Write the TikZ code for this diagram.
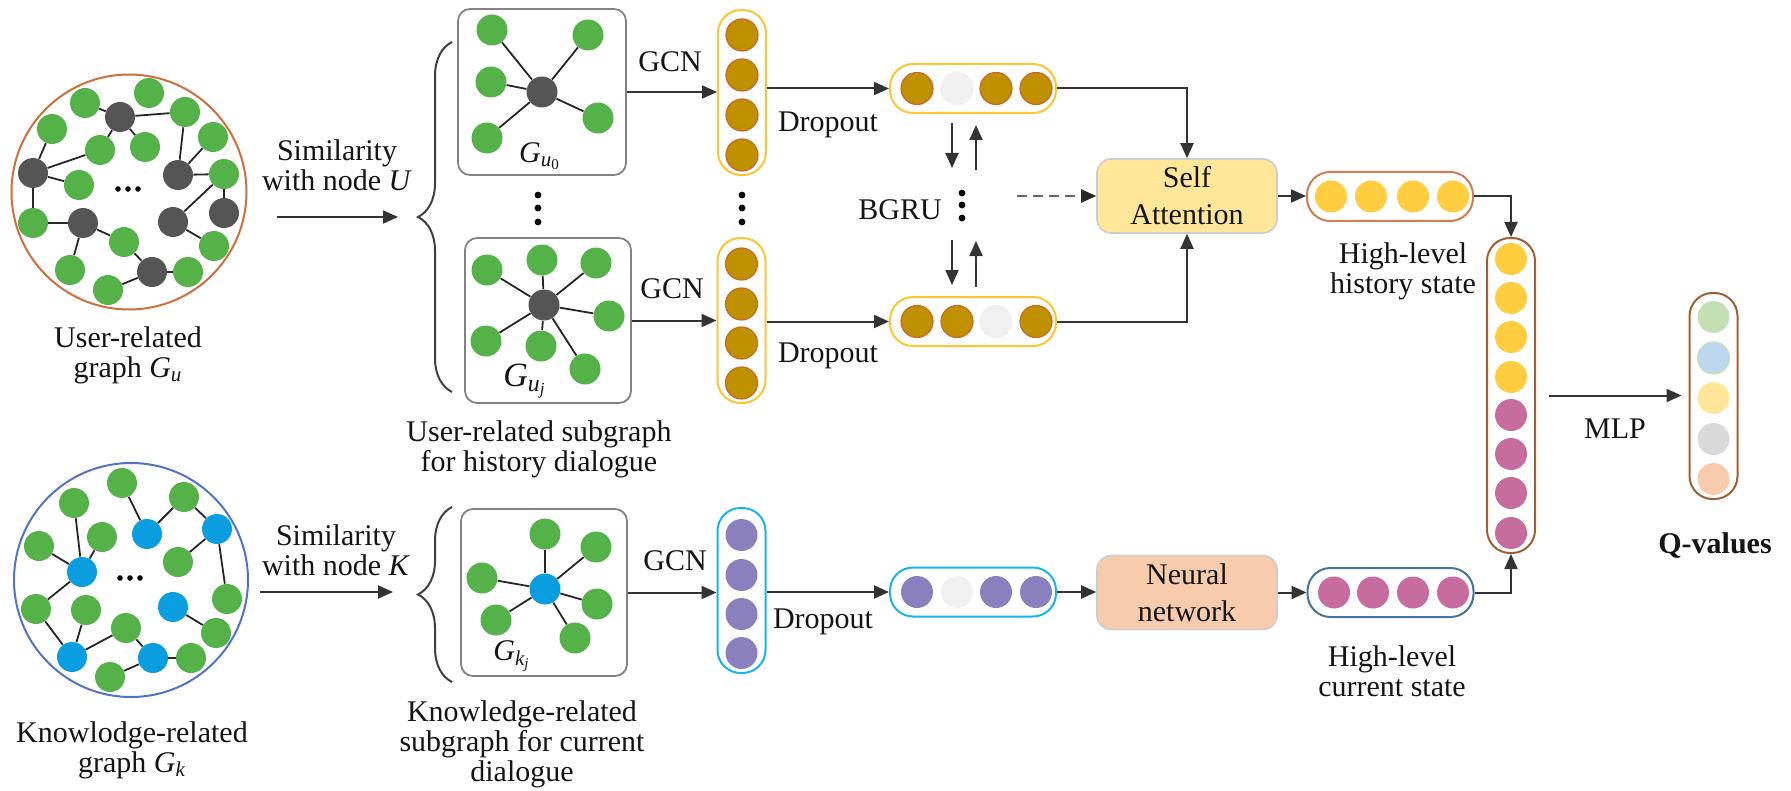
\documentclass[tikz,border=0pt]{standalone}
\usepackage{fontspec}
\usepackage{amsmath}
\setmainfont{Liberation Serif}
\usetikzlibrary{arrows.meta,decorations.pathreplacing}
\definecolor{cgreen}{RGB}{84,178,72}
\definecolor{cdark}{RGB}{85,85,85}
\definecolor{cblue}{RGB}{10,158,224}
\definecolor{cring1}{RGB}{205,110,60}
\definecolor{cring2}{RGB}{80,115,200}
\definecolor{cbrown}{RGB}{191,144,0}
\definecolor{cbrownd}{RGB}{200,105,40}
\definecolor{cyel}{RGB}{255,196,50}
\definecolor{clight}{RGB}{240,240,240}
\definecolor{cpurple}{RGB}{139,128,190}
\definecolor{ccyan}{RGB}{20,180,240}
\definecolor{cgold}{RGB}{255,206,64}
\definecolor{chist}{RGB}{205,125,80}
\definecolor{cmag}{RGB}{198,108,158}
\definecolor{ccur}{RGB}{70,115,155}
\definecolor{cbig}{RGB}{160,95,50}
\definecolor{csa}{RGB}{255,230,153}
\definecolor{cnn}{RGB}{248,203,173}
\definecolor{cboxb}{RGB}{205,205,205}
\definecolor{csub}{RGB}{130,130,130}
\definecolor{qg}{RGB}{197,224,180}
\definecolor{qb}{RGB}{189,215,238}
\definecolor{qy}{RGB}{255,230,153}
\definecolor{qgr}{RGB}{217,217,217}
\definecolor{qp}{RGB}{248,203,173}
\definecolor{ctext}{RGB}{20,20,20}
\begin{document}
\begin{tikzpicture}[x=0.5pt,y=-0.5pt,
  every node/.style={text=ctext},
  lbl/.style={font=\fontsize{15}{15}\selectfont, align=center, inner sep=0pt},
  gn/.style={circle,fill=cgreen,minimum size=15pt,inner sep=0pt},
  dn/.style={circle,fill=cdark,minimum size=15pt,inner sep=0pt},
  bn/.style={circle,fill=cblue,minimum size=15pt,inner sep=0pt},
  ed/.style={draw=black!85,line width=0.9pt},
  arr/.style={draw=black!80,line width=1pt,-{Triangle[length=7.5pt,width=6.5pt]}},
  cell/.style={circle,minimum size=16pt,inner sep=0pt},
  vcol/.style={draw,rounded corners=11.5pt,line width=1pt,minimum width=24pt,inner sep=0pt},
  hrow/.style={draw,rounded corners=11.5pt,line width=1pt,minimum width=83pt,minimum height=24.5pt,inner sep=0pt},
  sbox/.style={draw=csub,rounded corners=6pt,line width=0.9pt,inner sep=0pt},
  pbox/.style={draw=cboxb,rounded corners=7pt,line width=0.8pt,minimum width=90pt,minimum height=37pt,align=center,inner sep=0pt,font=\fontsize{15}{18.5}\selectfont},
  brc/.style={decorate,decoration={brace,amplitude=17pt},draw=black!75,line width=1pt}
]
\useasboundingbox (0,0) rectangle (1791,791);

% ---------- user-related graph ----------
\node[circle,draw=cring1,line width=1pt,minimum size=117.5pt,inner sep=0pt] (ucirc) at (129,192) {};
\foreach \n/\x/\y in {ug1/85/103,ug2/149/93,ug3/52/129,ug4/185/112,ug5/100/150,ug6/145/147,ug7/213/137,ug8/224/174,ug9/79/185,ug10/33/223,ug11/124/242,ug12/214/246,ug13/70/270,ug14/108/290,ug15/188/272}
  \node[gn] (\n) at (\x,\y) {};
\foreach \n/\x/\y in {ud1/120/117,ud2/33/173,ud3/178/175,ud4/83/223,ud5/173/222,ud6/224/213,ud7/152/272}
  \node[dn] (\n) at (\x,\y) {};
\foreach \a/\b in {ud1/ug1,ud1/ug4,ud1/ug6,ud1/ug5,ud2/ug3,ud2/ug5,ud2/ug9,ud2/ug10,ug10/ud4,ud4/ug11,ud4/ug13,ug11/ud7,ud7/ug14,ud7/ug15,ud3/ug4,ud3/ug7,ud3/ug8,ug8/ud6,ug8/ud5,ud5/ug12}
  \draw[ed] (\a) -- (\b);
\foreach \x in {118,128,138} \fill[black] (\x,189) circle[radius=1.4pt];
\node[lbl] (ulab) at (128,355) {User-related\\graph \textit{G}$_{\textit{u}}$};

% ---------- knowledge-related graph ----------
\node[circle,draw=cring2,line width=1pt,minimum size=117pt,inner sep=0pt] (kcirc) at (131,580) {};
\foreach \n/\x/\y in {kg1/122/483,kg2/74/503,kg3/184/497,kg4/39/546,kg5/102/537,kg6/178/562,kg7/36/609,kg8/86/610,kg9/126/628,kg10/227/599,kg11/216/633,kg12/191/658,kg13/110/677}
  \node[gn] (\n) at (\x,\y) {};
\foreach \n/\x/\y in {kb1/147/534,kb2/217/529,kb3/82/572,kb4/173/607,kb5/72/657,kb6/153/658}
  \node[bn] (\n) at (\x,\y) {};
\foreach \a/\b in {kb1/kg1,kb1/kg3,kg3/kb2,kb2/kg6,kb2/kg10,kb3/kg2,kb3/kg5,kb3/kg4,kb3/kg7,kg7/kb5,kb5/kg8,kb5/kg9,kg9/kb6,kb6/kg13,kb6/kg12,kb4/kg11}
  \draw[ed] (\a) -- (\b);
\foreach \x in {120,130,140} \fill[black] (\x,578) circle[radius=1.4pt];
\node[lbl] (klab) at (132,750) {Knowlodge-related\\graph \textit{G}$_{\textit{k}}$};

% ---------- similarity arrows ----------
\coordinate (ua0) at (277,217); \coordinate (ua1) at (398,217);
\draw[arr] (ua0) -- (ua1);
\node[lbl] (simu) at (337,165) {Similarity\\with node \textit{U}};
\coordinate (ka0) at (260,592); \coordinate (ka1) at (393,592);
\draw[arr] (ka0) -- (ka1);
\node[lbl] (simk) at (336,550) {Similarity\\with node \textit{K}};

% ---------- braces ----------
\coordinate (bu0) at (452,392); \coordinate (bu1) at (452,42);
\draw[brc] (bu0) -- (bu1);
\coordinate (bk0) at (452,682); \coordinate (bk1) at (452,507);
\draw[brc] (bk0) -- (bk1);

% ---------- subgraph boxes ----------
\node[sbox,minimum width=84pt,minimum height=83pt] (g0) at (542,92) {};
\node[dn,minimum size=15.5pt] (s0c) at (542,92) {};
\foreach \n/\x/\y in {s0a/492/30,s0b/588/35,s0d/491/82,s0e/598/118,s0f/487/138}
  { \node[gn,minimum size=15.5pt] (\n) at (\x,\y) {}; \draw[ed] (s0c) -- (\n); }
\node[lbl] (g0lab) at (540,156) {\textit{G}$_{\textit{u}_{\text{0}}}$};

\node[sbox,minimum width=83pt,minimum height=82.5pt] (gj) at (548,320.5) {};
\node[dn,minimum size=15.5pt] (sjc) at (544,305) {};
\foreach \n/\x/\y in {sja/487/270,sjb/542/260,sjd/596/263,sje/609/316,sjf/486/341,sjg/541/346,sjh/585/369}
  { \node[gn,minimum size=15.5pt] (\n) at (\x,\y) {}; \draw[ed] (sjc) -- (\n); }
\node[lbl,font=\fontsize{17}{17}\selectfont] (gjlab) at (525,381) {\textit{G}$_{\textit{u}_{\textit{j}}}$};

\node[sbox,minimum width=83pt,minimum height=83.5pt] (gk) at (544,592.5) {};
\node[bn,minimum size=15.5pt] (skc) at (545,589) {};
\foreach \n/\x/\y in {ska/545/534,skb/596/547,skd/482/578,ske/597/604,skf/496/620,skg/575/638}
  { \node[gn,minimum size=15.5pt] (\n) at (\x,\y) {}; \draw[ed] (skc) -- (\n); }
\node[lbl] (gklab) at (512,656) {\textit{G}$_{\textit{k}_{\textit{j}}}$};

% vertical dots
\foreach \y in {195,208,222} { \fill[black] (538,\y) circle[radius=1.7pt]; \fill[black] (742,\y) circle[radius=1.7pt]; }

\node[lbl] (capu) at (539,449.5) {User-related subgraph\\for history dialogue};
\node[lbl] (capk) at (522,744.5) {Knowledge-related\\subgraph for current\\dialogue};

% ---------- GCN columns ----------
\node[vcol,draw=cyel,minimum height=82.5pt] (c1) at (742,92.5) {};
\foreach \y [count=\i] in {35,75,115,155}
  \node[cell,fill=cbrown,draw=cbrownd,line width=0.6pt] (c1n\i) at (742,\y) {};
\node[vcol,draw=cyel,minimum height=82.5pt] (c2) at (741.5,320.5) {};
\foreach \y [count=\i] in {264,304,343,383}
  \node[cell,fill=cbrown,draw=cbrownd,line width=0.6pt] (c2n\i) at (741.5,\y) {};
\node[vcol,draw=ccyan,minimum height=82.5pt] (c3) at (741.5,590.5) {};
\foreach \y [count=\i] in {535,575,614,653}
  \node[cell,fill=cpurple] (c3n\i) at (741.5,\y) {};

\draw[arr] (g0.east) -- (g0.east -| c1.west);
\draw[arr] (gj.east) -- (gj.east -| c2.west);
\draw[arr] (gk.east) -- (gk.east -| c3.west);
\node[lbl,anchor=base] (gcn1) at (670,72) {GCN};
\node[lbl,anchor=base] (gcn2) at (672,298) {GCN};
\node[lbl,anchor=base] (gcn3) at (675,570) {GCN};

% ---------- dropout rows ----------
\node[hrow,draw=cyel] (r1) at (973,88.5) {};
\foreach \x/\c/\d [count=\i] in {917/cbrown/cbrownd,957/clight/clight,996/cbrown/cbrownd,1036/cbrown/cbrownd}
  \node[cell,fill=\c,draw=\d,line width=0.6pt] (r1n\i) at (\x,88.5) {};
\node[hrow,draw=cyel] (r2) at (973,321.5) {};
\foreach \x/\c/\d [count=\i] in {917/cbrown/cbrownd,957/cbrown/cbrownd,996/clight/clight,1036/cbrown/cbrownd}
  \node[cell,fill=\c,draw=\d,line width=0.6pt] (r2n\i) at (\x,321.5) {};
\node[hrow,draw=ccyan] (r3) at (973,592) {};
\foreach \x/\c [count=\i] in {917/cpurple,957/clight,996/cpurple,1036/cpurple}
  \node[cell,fill=\c] (r3n\i) at (\x,592) {};

\draw[arr] (c1.east |- r1.west) -- (r1.west);
\draw[arr] (c2.east |- r2.west) -- (r2.west);
\draw[arr] (c3.east |- r3.west) -- (r3.west);
\node[lbl,anchor=base] (dp1) at (828,132) {Dropout};
\node[lbl,anchor=base] (dp2) at (828,362) {Dropout};
\node[lbl,anchor=base] (dp3) at (823,628) {Dropout};

% ---------- BGRU ----------
\coordinate (bg1a) at (952,123); \coordinate (bg1b) at (952,168);
\coordinate (bg2a) at (976,170); \coordinate (bg2b) at (976,125);
\coordinate (bg3a) at (952,240); \coordinate (bg3b) at (952,285);
\coordinate (bg4a) at (976,287); \coordinate (bg4b) at (976,241);
\draw[arr] (bg1a) -- (bg1b);
\draw[arr] (bg2a) -- (bg2b);
\draw[arr] (bg3a) -- (bg3b);
\draw[arr] (bg4a) -- (bg4b);
\node[lbl,anchor=base] (bgru) at (900,220) {BGRU};
\foreach \y in {193,205,218} \fill[black] (962,\y) circle[radius=1.7pt];

% ---------- boxes ----------
\node[pbox,fill=csa] (sa) at (1187,196) {Self\\Attention};
\node[pbox,fill=cnn] (nn) at (1187,592.5) {Neural\\network};
\coordinate (dsh) at (1017,196);
\draw[draw=black!60,line width=1pt,dash pattern=on 5pt off 3pt,-{Triangle[length=7.5pt,width=6.5pt,color=black!85]}] (dsh) -- (sa.west);
\draw[arr] (r1.east) -| (sa.north);
\draw[arr] (r2.east) -| (sa.south);
\draw[arr] (r3.east) -- (r3.east -| nn.west);

% ---------- high-level states ----------
\node[hrow,draw=chist] (hr) at (1390,196.5) {};
\foreach \x [count=\i] in {1331,1371,1413,1453}
  \node[cell,fill=cgold] (hrn\i) at (\x,196.5) {};
\node[hrow,draw=ccur] (cr) at (1390.5,592.5) {};
\foreach \x [count=\i] in {1334,1373,1413,1453}
  \node[cell,fill=cmag] (crn\i) at (\x,592.5) {};
\draw[arr] (sa.east) -- (sa.east -| hr.west);
\draw[arr] (nn.east) -- (nn.east -| cr.west);
\node[lbl] (hlab) at (1403,271) {High-level\\history state};
\node[lbl] (clab) at (1392,671) {High-level\\current state};

% ---------- concatenated vector ----------
\node[vcol,draw=cbig,minimum height=157.5pt] (big) at (1511,395.5) {};
\foreach \y/\c [count=\i] in {259/cgold,298/cgold,337/cgold,377/cgold,415/cmag,454/cmag,493/cmag,533/cmag}
  \node[cell,fill=\c] (bn\i) at (1511,\y) {};
\draw[arr] (hr.east) -| (big.north);
\draw[arr] (cr.east) -| (big.south);

% ---------- Q-values ----------
\node[vcol,draw=cbig,minimum height=103pt] (qc) at (1713.5,396) {};
\node[cell,fill=qg] (q1) at (1713.5,317) {};
\node[cell,fill=qb,draw=qg,line width=0.6pt] (q2) at (1713.5,358) {};
\node[cell,fill=qy] (q3) at (1713.5,398) {};
\node[cell,fill=qgr] (q4) at (1713.5,439) {};
\node[cell,fill=qp] (q5) at (1713.5,479) {};
\draw[arr,shorten <=6.5pt,shorten >=3.5pt] (big.east) -- (big.east -| qc.west);
\node[lbl,anchor=base] (mlp) at (1615,438) {MLP};
\node[lbl,anchor=base,font=\fontsize{15}{15}\selectfont\bfseries] (qlab) at (1715,553) {Q-values};
\end{tikzpicture}
\end{document}
